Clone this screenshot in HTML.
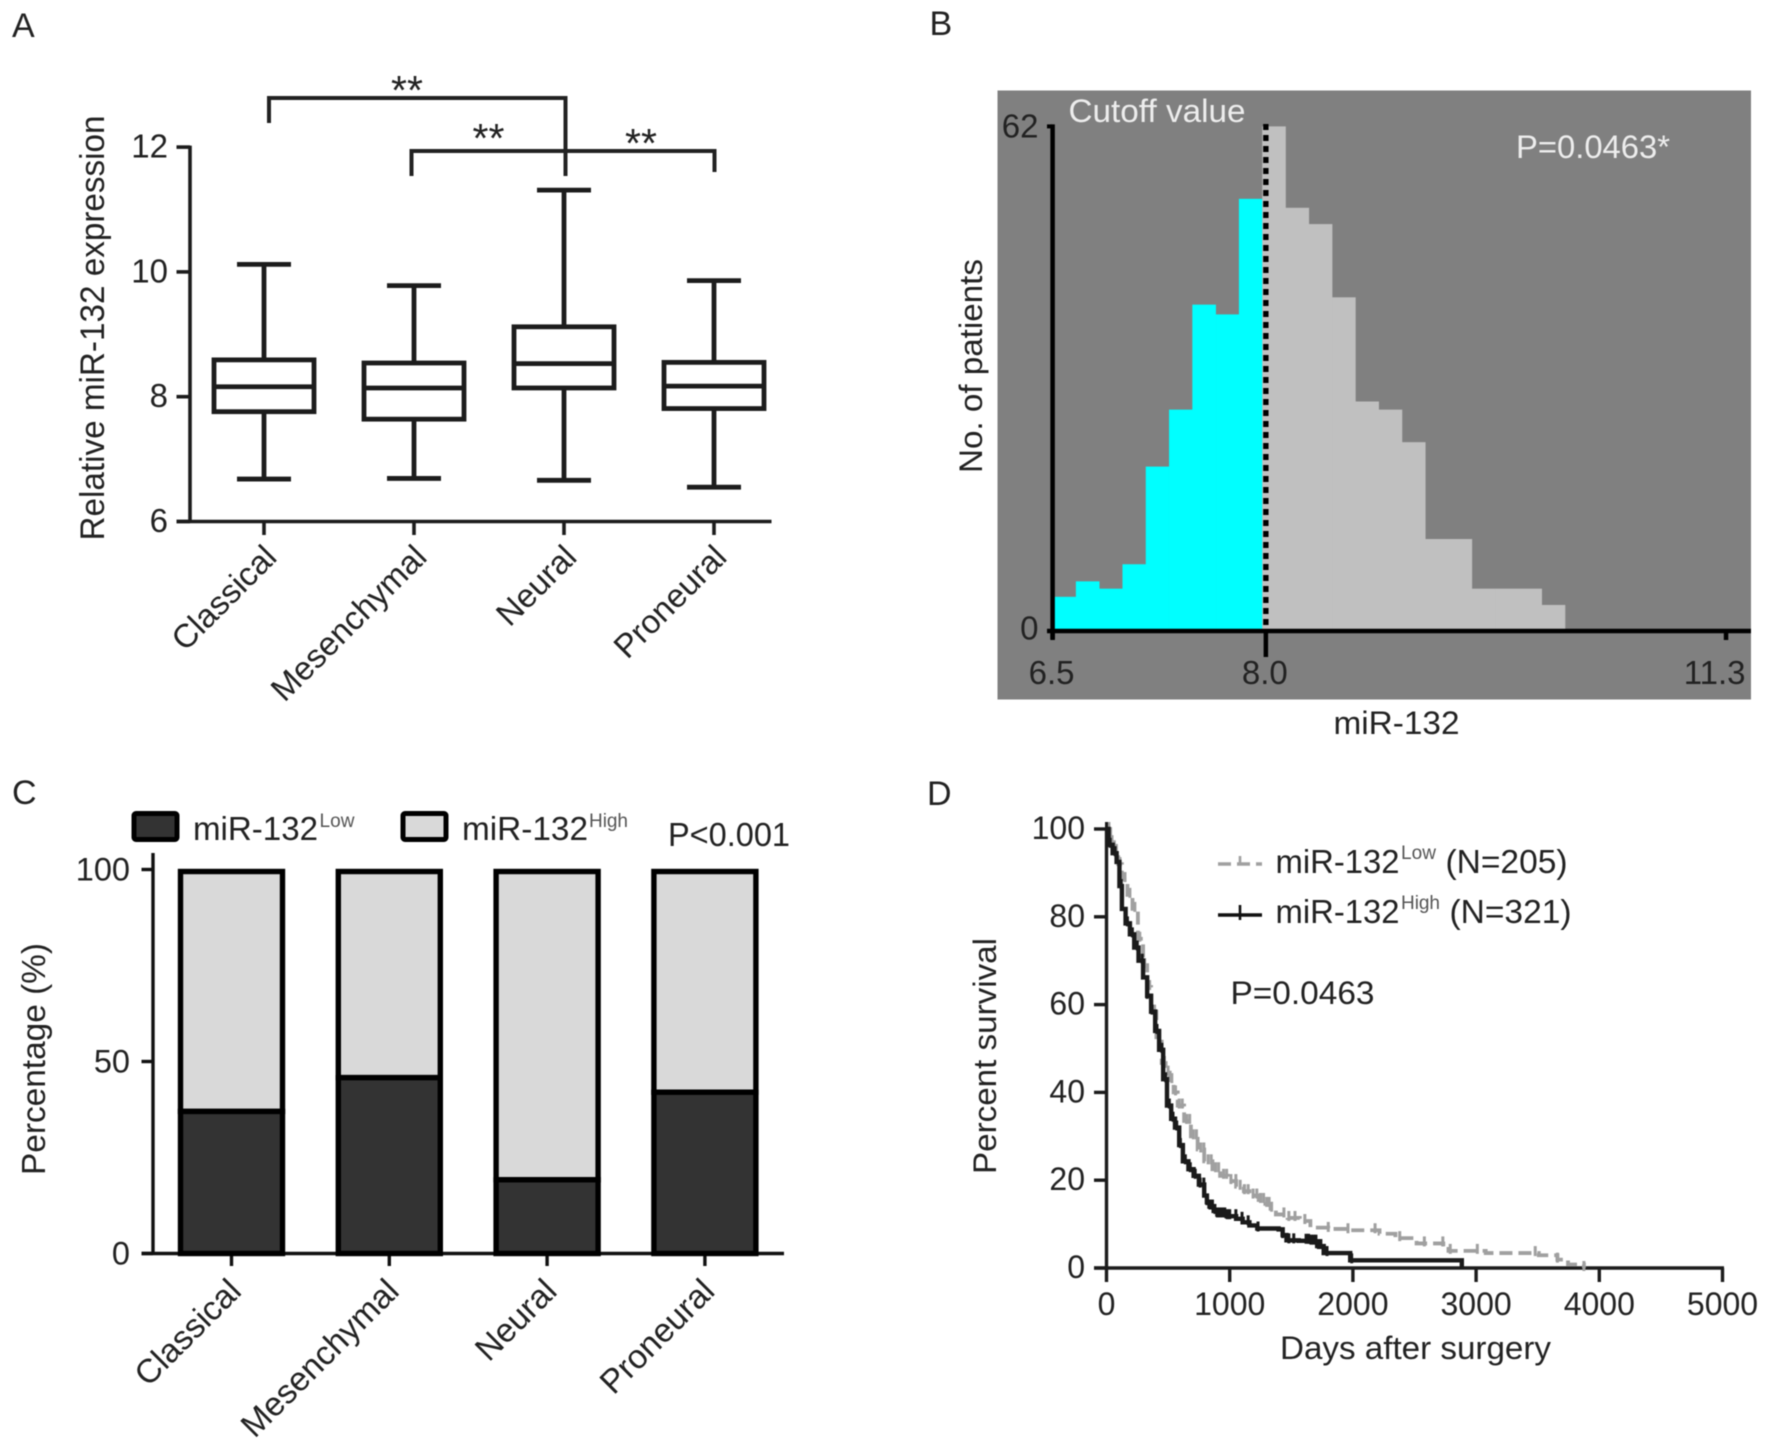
<!DOCTYPE html>
<html><head><meta charset="utf-8"><title>miR-132 figure</title>
<style>html,body{margin:0;padding:0;background:#fff}svg{display:block;filter:blur(.55px)}text{font-family:"Liberation Sans",sans-serif;fill:#222}</style>
</head><body>
<svg id="fig" xmlns="http://www.w3.org/2000/svg" width="1771" height="1449" viewBox="0 0 1771 1449">
<rect x="997.5" y="90.5" width="753.5" height="609" fill="#808080"/>
<g id="panelA">
<text x="12" y="37" font-size="34">A</text>
<text transform="translate(104,328) rotate(-90)" font-size="34" text-anchor="middle" textLength="425" lengthAdjust="spacingAndGlyphs">Relative miR-132 expression</text>
</g>
<g id="panelB">
<text x="929.5" y="35" font-size="34">B</text>
<text transform="translate(982,366) rotate(-90)" font-size="32" text-anchor="middle" textLength="214" lengthAdjust="spacingAndGlyphs">No. of patients</text>
<text x="1396.5" y="734" font-size="32" text-anchor="middle" textLength="126" lengthAdjust="spacingAndGlyphs">miR-132</text>
</g>
<g id="panelC">
<text x="12" y="804" font-size="34">C</text>
<text transform="translate(45,1059) rotate(-90)" font-size="33" text-anchor="middle" textLength="232" lengthAdjust="spacingAndGlyphs">Percentage (%)</text>
</g>
<g id="panelD">
<text x="927" y="805" font-size="34">D</text>
<text transform="translate(996,1056) rotate(-90)" font-size="32" text-anchor="middle" textLength="236" lengthAdjust="spacingAndGlyphs">Percent survival</text>
<text x="1415.5" y="1359" font-size="32" text-anchor="middle" textLength="271" lengthAdjust="spacingAndGlyphs">Days after surgery</text>
<text x="1230.5" y="1004" font-size="32" textLength="144" lengthAdjust="spacingAndGlyphs">P=0.0463</text>
</g>
</svg>
<script>
// Panel A: box plot data
var boxCategories = ['Classical', 'Mesenchymal', 'Neural', 'Proneural'];
var boxWhiskerHigh = [10.12, 9.78, 11.31, 9.86];
var boxQ3 = [8.59, 8.54, 9.12, 8.55];
var boxMedian = [8.16, 8.14, 8.53, 8.17];
var boxQ1 = [7.76, 7.64, 8.14, 7.81];
var boxWhiskerLow = [6.68, 6.69, 6.66, 6.55];
var boxYTicks = [6, 8, 10, 12];

// Panel B: histogram data
var histLowCounts = [4.2, 6.1, 5.2, 8.2, 20.2, 27.2, 40.1, 38.9, 53.1];
var histHighCounts = [62, 52, 50, 41, 28.2, 27.2, 23.2, 11.3, 11.3, 5.2, 5.2, 5.2, 3.2];
var histBinStart = 6.5;
var histBinWidth = 0.166;
var histCutoff = 8.02;
var histXTicks = [6.5, 8.02, 11.3];
var histXTickLabels = ['6.5', '8.0', '11.3'];
var histYTicks = [0, 62];

// Panel C: stacked bar data
var barCategories = ['Classical', 'Mesenchymal', 'Neural', 'Proneural'];
var barLow = [37, 45.8, 19.2, 42];
var barHigh = [63, 54.2, 80.8, 58];
var barYTicks = [0, 50, 100];

// Panel D: survival data
var lowDays = [0,30,60,95,125,170,211,255,297,330,362,405,448,480,513,545,578,630,685,740,793,860,922,985,1052,1115,1181,1235,1289,1332,1375,1470,1569,1655,1800,1957,2216,2345,2517,2733,2776,3078,3509,3660,3746,3875];
var lowSurv = [100,97,95,92,88.6,85,81.8,75,69,64,58.4,52,46.7,44.5,42.8,40,37,33.5,30,27,24.3,22.5,21,19.8,18.5,17.5,16.5,15.5,14.6,13.5,12.2,11.4,10.7,9.2,8.9,8.6,7.8,6.8,5.6,5.4,3.9,3.4,2.9,1.9,0.8,0];
var highDays = [0,17,50,82,105,125,155,190,225,260,297,330,362,395,427,460,491,525,556,590,620,665,707,750,793,815,836,870,900,975,1052,1105,1160,1224,1397,1430,1461,1560,1655,1710,1763,1978,2884];
var highSurv = [100,96.4,94.5,92.5,87,81.8,78.5,76,73,70,66.2,62,58.4,54,49.7,43,37,34,32,28,24.3,22.5,21,19,16.5,15,14,13,12.2,11.8,11.2,10.4,9.7,9,8.8,7.5,6.3,6.2,6,5,3.4,1.75,0];
var lowCensored = [20,45,80,110,150,190,230,270,310,350,390,430,470,500,530,560,590,615,650,675,705,730,765,790,825,850,885,910,950,975,1010,1050,1085,1120,1150,1190,1220,1250,1275,1300,1320,1340,1440,1480,1530,1610,1800,1960,2180,2380,2580,2730,2790,3010,3480,3660,3875];
var highCensored = [0,30,70,120,170,210,250,290,330,370,410,450,480,510,540,570,600,640,680,720,760,790,815,840,860,880,900,920,940,960,980,1000,1050,1100,1150,1230,1430,1480,1520,1620,1640,1660,1680,1700,1720,1740,1790,1990];
var survXTicks = [0, 1000, 2000, 3000, 4000, 5000];
var survYTicks = [0, 20, 40, 60, 80, 100];

var NS = 'http://www.w3.org/2000/svg';
function mk(parent, tag, attrs) {
  var e = document.createElementNS(NS, tag);
  for (var k in attrs) e.setAttribute(k, attrs[k]);
  parent.appendChild(e);
  return e;
}
function line(parent, x1, y1, x2, y2, stroke, width) {
  var e = mk(parent, 'line', {x1: x1, y1: y1, x2: x2, y2: y2, stroke: stroke, 'stroke-width': width});
  
  return e;
}
function label(parent, x, y, str, size, anchor, fill) {
  var e = mk(parent, 'text', {x: x, y: y, 'font-size': size, 'text-anchor': anchor || 'start'});
  if (fill) e.style.fill = fill;
  e.textContent = str;
  
  return e;
}
function tilted(parent, x, y, str, size) {
  var e = mk(parent, 'text', {transform: 'translate(' + x + ',' + y + ') rotate(-45)', 'font-size': size, 'text-anchor': 'end'});
  e.textContent = str;
  
  return e;
}

/* ---------- Panel A ---------- */
(function () {
  var g = document.getElementById('panelA');
  var x = function (i) { return 264 + 150 * i; };
  var y = function (v) { return 521.5 - (v - 6) * 62.4; };
  var AX = '#1c1c1c';
  var el = line(g, 190, y(12) - 1.5, 190, y(6) + 1.5, AX, 3.6);
  
  el = line(g, 176.5, y(6), 771.5, y(6), AX, 3.6);
  
  boxYTicks.forEach(function (v) {
    var t = line(g, 176.5, y(v), 190, y(v), AX, 3.6);
    
    var l = label(g, 168, y(v) + 10.5, String(v), 33, 'end');
    
  });
  boxCategories.forEach(function (c, i) {
    var cx = x(i), hw = 50, cap = 27, sw = 4.8, col = '#1c1c1c';
    var t = line(g, cx, y(6), cx, 535, AX, 3.6);
    
    var l = tilted(g, cx + 14.5, 559, c, 33);
    
    var w1 = line(g, cx, y(boxWhiskerHigh[i]), cx, y(boxQ3[i]), col, sw);
    
    var w2 = line(g, cx, y(boxQ1[i]), cx, y(boxWhiskerLow[i]), col, sw);
    
    var c1 = line(g, cx - cap, y(boxWhiskerHigh[i]), cx + cap, y(boxWhiskerHigh[i]), col, sw);
    
    var c2 = line(g, cx - cap, y(boxWhiskerLow[i]), cx + cap, y(boxWhiskerLow[i]), col, sw);
    
    var r = mk(g, 'rect', {x: cx - hw, y: y(boxQ3[i]), width: 2 * hw, height: y(boxQ1[i]) - y(boxQ3[i]), fill: 'none', stroke: col, 'stroke-width': sw});
    
    
    var m = line(g, cx - hw, y(boxMedian[i]), cx + hw, y(boxMedian[i]), col, sw);
    
  });
  var b1 = mk(g, 'path', {d: 'M269 123V98H565.5V176', fill: 'none', stroke: '#222', 'stroke-width': 4});
  
  
  var b2 = mk(g, 'path', {d: 'M411.5 176V151H714.5V172', fill: 'none', stroke: '#222', 'stroke-width': 4});
  
  
  var s1 = label(g, 407, 104, '**', 41, 'middle');
  
  var s2 = label(g, 488.5, 152, '**', 41, 'middle');
  
  var s3 = label(g, 641, 157, '**', 41, 'middle');
  
})();

/* ---------- Panel B ---------- */
(function () {
  var g = document.getElementById('panelB');
  var x = function (v) { return 1052.6 + (v - 6.5) * 140.3; };
  var y = function (n) { return 631 - n * (504.6 / 62); };
  histLowCounts.forEach(function (n, i) {
    var l = x(histBinStart + i * histBinWidth), r = x(histBinStart + (i + 1) * histBinWidth);
    var b = mk(g, 'rect', {x: l, y: y(n), width: r - l + 0.3, height: y(0) - y(n), fill: '#00ffff'});
    
    
  });
  histHighCounts.forEach(function (n, i) {
    var k = i + histLowCounts.length;
    var l = x(histBinStart + k * histBinWidth), r = x(histBinStart + (k + 1) * histBinWidth);
    var b = mk(g, 'rect', {x: l, y: y(n), width: r - l + 0.3, height: y(0) - y(n), fill: '#c0c0c0'});
    
    
  });
  var el = line(g, x(histCutoff), 124, x(histCutoff), y(0), '#000', 5.4);
  el.setAttribute('stroke-dasharray', '6 5');
  
  el = line(g, 1052.6, y(62) - 2, 1052.6, y(0) + 8, '#000', 4.5);
  
  el = line(g, 1047, y(0), 1751, y(0), '#000', 4.5);
  
  histYTicks.forEach(function (n) {
    var t = line(g, 1047, y(n), 1052.6, y(n), '#000', 4);
    
    var l = label(g, 1038.5, y(n) + (n === 0 ? 8.5 : 11), String(n), 33, 'end');
    
  });
  histXTicks.forEach(function (v, i) {
    var h = i === 1 ? 26 : 9;
    var t = line(g, x(v), y(0), x(v), y(0) + h, '#000', 4.5);
    
    var l = label(g, i === 2 ? 1745.5 : x(v) - 1, 684, histXTickLabels[i], 33, i === 2 ? 'end' : 'middle');
    
  });
  var c = label(g, 1157, 122, 'Cutoff value', 32, 'middle', '#ededed');
  c.setAttribute('textLength', '177');
  c.setAttribute('lengthAdjust', 'spacingAndGlyphs');
  
  var p = label(g, 1516, 158, 'P=0.0463*', 32, 'start', '#ededed');
  p.setAttribute('textLength', '154');
  p.setAttribute('lengthAdjust', 'spacingAndGlyphs');
  
})();

/* ---------- Panel C ---------- */
(function () {
  var g = document.getElementById('panelC');
  var x = function (i) { return 231.5 + 157.8 * i; };
  var y = function (v) { return 1253.5 - v * 3.84; };
  var el = line(g, 153, 853, 153, y(0) + 1.5, '#111', 3.4);
  
  el = line(g, 141.5, y(0), 784, y(0), '#111', 3.4);
  
  barYTicks.forEach(function (v) {
    var t = line(g, 141.5, y(v), 153, y(v), '#111', 3.4);
    
    var l = label(g, 130, y(v) + 11, String(v), 32.5, 'end');
    
  });
  barCategories.forEach(function (c, i) {
    var cx = x(i), w = 102, sw = 5.4;
    var t = line(g, cx, y(0), cx, 1266, '#111', 3.4);
    
    var l = tilted(g, cx + 11.5, 1293, c, 33.5);
    
    var top = y(barLow[i] + barHigh[i]) + 2;
    var hi = mk(g, 'rect', {x: cx - w / 2, y: top, width: w, height: y(barLow[i]) - top, fill: '#d9d9d9', stroke: '#000', 'stroke-width': sw});
    
    
    var lo = mk(g, 'rect', {x: cx - w / 2, y: y(barLow[i]), width: w, height: y(0) - y(barLow[i]), fill: '#333333', stroke: '#000', 'stroke-width': sw});
    
    
  });
  var s1 = mk(g, 'rect', {x: 134, y: 813.5, width: 43, height: 26, rx: 2, fill: '#333333', stroke: '#000', 'stroke-width': 5});
  
  
  var s2 = mk(g, 'rect', {x: 403, y: 813.5, width: 43, height: 26, rx: 2, fill: '#d9d9d9', stroke: '#000', 'stroke-width': 5});
  
  
  var t1 = label(g, 193, 840, 'miR-132', 33);
  t1.setAttribute('textLength', '125');
  t1.setAttribute('lengthAdjust', 'spacingAndGlyphs');
  
  var t2 = label(g, 319.5, 827, 'Low', 19, 'start', '#555');
  t2.setAttribute('textLength', '35');
  
  var t3 = label(g, 462, 840, 'miR-132', 33);
  t3.setAttribute('textLength', '126');
  t3.setAttribute('lengthAdjust', 'spacingAndGlyphs');
  
  var t4 = label(g, 589, 827, 'High', 19, 'start', '#555');
  t4.setAttribute('textLength', '39');
  
  var p = label(g, 668, 846, 'P<0.001', 33);
  p.setAttribute('textLength', '122');
  p.setAttribute('lengthAdjust', 'spacingAndGlyphs');
  
})();

/* ---------- Panel D ---------- */
(function () {
  var g = document.getElementById('panelD');
  var x = function (d) { return 1106.5 + d * 0.1232; };
  var y = function (p) { return 1268 - p * 4.39; };
  function stepPath(ds, ss) {
    var s = 'M' + x(ds[0]) + ' ' + y(ss[0]);
    for (var i = 1; i < ds.length; i++) s += 'H' + x(ds[i]) + 'V' + y(ss[i]);
    return s;
  }
  function survAt(ds, ss, d) {
    var v = ss[0];
    for (var i = 0; i < ds.length; i++) if (ds[i] <= d) v = ss[i];
    return v;
  }
  var AX = '#1c1c1c';
  var el = line(g, x(0), y(100) - 1.5, x(0), y(0) + 1.5, AX, 3.4);
  
  el = line(g, 1094, y(0), x(5000) + 1.5, y(0), AX, 3.4);
  
  survYTicks.forEach(function (v) {
    var t = line(g, 1094, y(v), x(0), y(v), AX, 3.4);
    
    var l = label(g, 1085, y(v) + 10, String(v), 32, 'end');
    
  });
  survXTicks.forEach(function (v) {
    var t = line(g, x(v), y(0), x(v), 1282, AX, 3.4);
    
    var l = label(g, x(v), 1315, String(v), 32, 'middle');
    
  });
  var lp = mk(g, 'path', {d: stepPath(lowDays, lowSurv), fill: 'none', stroke: '#a0a0a0', 'stroke-width': 3.8, 'stroke-dasharray': '13 6'});
  
  
  lowCensored.forEach(function (d) {
    var py = y(survAt(lowDays, lowSurv, d));
    var t = line(g, x(d), py - 7, x(d), py + 3, '#a0a0a0', 3);
    
  });
  var hp = mk(g, 'path', {d: stepPath(highDays, highSurv), fill: 'none', stroke: '#1a1a1a', 'stroke-width': 4.4});
  
  
  highCensored.forEach(function (d) {
    var py = y(survAt(highDays, highSurv, d));
    var t = line(g, x(d), py - 7, x(d), py + 3, '#1a1a1a', 3);
    
  });
  var k1 = line(g, 1218, 864, 1262, 864, '#a0a0a0', 3.6);
  k1.setAttribute('stroke-dasharray', '13 6');
  
  var k1b = line(g, 1240, 856, 1240, 864, '#a0a0a0', 2.6);
  
  var k2 = line(g, 1218, 915, 1262, 915, '#111', 3.6);
  
  var k2b = line(g, 1240, 905, 1240, 920, '#111', 2.6);
  
  var a = label(g, 1275.5, 873, 'miR-132', 33);
  a.setAttribute('textLength', '124');
  a.setAttribute('lengthAdjust', 'spacingAndGlyphs');
  
  var b = label(g, 1401, 859, 'Low', 19, 'start', '#555');
  b.setAttribute('textLength', '35');
  
  var c = label(g, 1445.5, 873, '(N=205)', 33);
  c.setAttribute('textLength', '122');
  c.setAttribute('lengthAdjust', 'spacingAndGlyphs');
  
  var d = label(g, 1275.5, 923, 'miR-132', 33);
  d.setAttribute('textLength', '124');
  d.setAttribute('lengthAdjust', 'spacingAndGlyphs');
  
  var e = label(g, 1401, 909, 'High', 19, 'start', '#555');
  e.setAttribute('textLength', '39');
  
  var f = label(g, 1449.5, 923, '(N=321)', 33);
  f.setAttribute('textLength', '122');
  f.setAttribute('lengthAdjust', 'spacingAndGlyphs');
  
})();
</script>
</body></html>
